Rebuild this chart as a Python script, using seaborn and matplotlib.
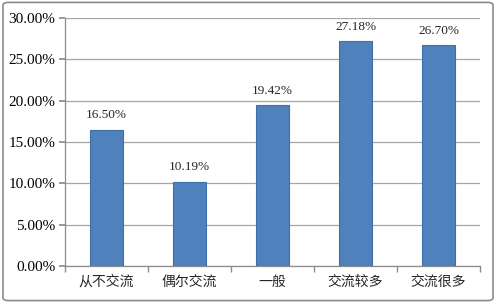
import matplotlib
matplotlib.use("Agg")
import matplotlib.pyplot as plt
import seaborn as sns
import pandas as pd
import numpy as np
from matplotlib.patches import FancyBboxPatch
from matplotlib.ticker import FuncFormatter, FixedLocator

categories = ["从不交流", "偶尔交流", "一般", "交流较多", "交流很多"]
values = [16.50, 10.19, 19.42, 27.18, 26.70]
yticks = [0, 5, 10, 15, 20, 25, 30]

sns.set_theme(style="white")
plt.rcParams['font.family'] = ['Liberation Serif', 'Noto Sans CJK SC']

df = pd.DataFrame({"cat": categories, "val": values})

fig = plt.figure(figsize=(4.96, 3.03), dpi=100)
ax = fig.add_axes([0.131, 0.122, 0.837, 0.819])

sns.barplot(data=df, x="cat", y="val", color="#4F81BD", width=0.4,
            edgecolor="#3f6fa8", linewidth=0.8, saturation=1, ax=ax, zorder=3)

ax.set_ylim(0, 30)
ax.set_xlim(-0.5, 4.5)
ax.set_yticks(yticks)
ax.yaxis.set_major_formatter(FuncFormatter(lambda v, p: f"{v:.2f}%"))
ax.yaxis.grid(True, color="#a6a6a6", linewidth=0.9, zorder=0)
ax.set_axisbelow(True)
ax.set_xlabel("")
ax.set_ylabel("")

for s in ["top", "right"]:
    ax.spines[s].set_visible(False)
for s in ["left", "bottom"]:
    ax.spines[s].set_color("#8c8c8c")
    ax.spines[s].set_linewidth(0.9)

ax.tick_params(axis="y", which="major", left=True, length=4, color="#8c8c8c",
               labelsize=11, labelcolor="black", pad=3)
ax.tick_params(axis="x", which="major", bottom=False, length=0, labelsize=10, pad=6)
ax.xaxis.set_minor_locator(FixedLocator(np.arange(-0.5, 5, 1.0)))
ax.tick_params(axis="x", which="minor", bottom=True, length=4, color="#8c8c8c")
for lbl in ax.get_xticklabels():
    lbl.set_fontfamily(['Noto Sans CJK SC'])

for i, v in enumerate(values):
    ax.text(i, v + 1.0, f"{v:.2f}%", ha="center", va="bottom", fontsize=9.5)

border = FancyBboxPatch((0.006, 0.008), 0.988, 0.984, boxstyle="round,pad=0,rounding_size=0.01",
                        transform=fig.transFigure, fill=False, edgecolor="#8c8c8c",
                        linewidth=1.2)
fig.patches.append(border)

fig.savefig("out.png", dpi=100)
